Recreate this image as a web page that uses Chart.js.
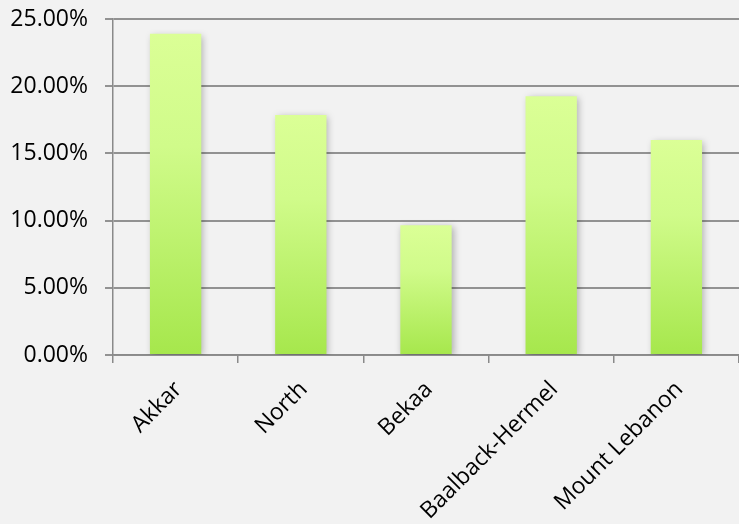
<!DOCTYPE html>
<html>
<head>
<meta charset="utf-8">
<script src="https://cdn.jsdelivr.net/npm/chart.js@4/dist/chart.umd.min.js"></script>
<style>
html,body{margin:0;padding:0;background:#f2f2f2;}
#wrap{width:739px;height:524px;position:relative;}
</style>
</head>
<body>
<div id="wrap"><canvas id="c" width="739" height="524"></canvas></div>
<script>
const categories = ["Akkar", "North", "Bekaa", "Baalback-Hermel", "Mount Lebanon"];
const values = [23.9, 17.85, 9.65, 19.25, 16.0];
const yTicks = [0, 5, 10, 15, 20, 25];

const shadowPlugin = {
  id: 'barShadow',
  beforeDatasetsDraw(chart) {
    const c = chart.ctx;
    c.save();
    c.shadowColor = 'rgba(0,0,0,0.28)';
    c.shadowBlur = 7;
    c.shadowOffsetX = 2;
    c.shadowOffsetY = 2;
  },
  afterDatasetsDraw(chart) {
    chart.ctx.restore();
  }
};

const bg = (context) => {
  const chart = context.chart;
  if (!chart.chartArea || context.raw === undefined) return '#bff27a';
  const y = chart.scales.y;
  const top = y.getPixelForValue(context.raw);
  const bottom = y.getPixelForValue(0);
  const g = chart.ctx.createLinearGradient(0, top, 0, bottom);
  g.addColorStop(0, '#dbff96');
  g.addColorStop(0.35, '#d0fb8a');
  g.addColorStop(1, '#a6e74c');
  return g;
};

new Chart(document.getElementById('c'), {
  type: 'bar',
  data: {
    labels: categories,
    datasets: [{
      data: values,
      backgroundColor: bg,
      borderWidth: 0,
      barPercentage: 0.41,
      categoryPercentage: 1.0
    }]
  },
  options: {
    responsive: false,
    animation: false,
    layout: { padding: { top: 19, right: 0, left: 0, bottom: 0 } },
    plugins: { legend: { display: false }, tooltip: { enabled: false } },
    scales: {
      y: {
        min: 0, max: 25,
        afterBuildTicks(scale) { scale.ticks = yTicks.map(v => ({ value: v })); },
        afterFit(scale) { scale.width = 113; scale.paddingTop = 0; scale.paddingBottom = 0; },
        ticks: {
          color: '#000',
          padding: 17,
          font: { family: 'Open Sans', size: 23 },
          callback: v => v.toFixed(2) + '%'
        },
        grid: { color: '#929292', lineWidth: 2, tickLength: 8 },
        border: { color: '#8a8a8a', width: 1.5 }
      },
      x: {
        afterFit(scale) { scale.height = 169; scale.paddingLeft = 0; scale.paddingRight = 0; },
        ticks: {
          color: '#000',
          padding: 13,
          labelOffset: 3,
          maxRotation: 45,
          minRotation: 45,
          font: { family: 'Open Sans', size: 23 }
        },
        grid: { drawOnChartArea: false, offset: true, color: '#8a8a8a', lineWidth: 1.5, tickLength: 8 },
        border: { color: '#8a8a8a', width: 1.5 }
      }
    }
  },
  plugins: [shadowPlugin]
});
</script>
</body>
</html>
